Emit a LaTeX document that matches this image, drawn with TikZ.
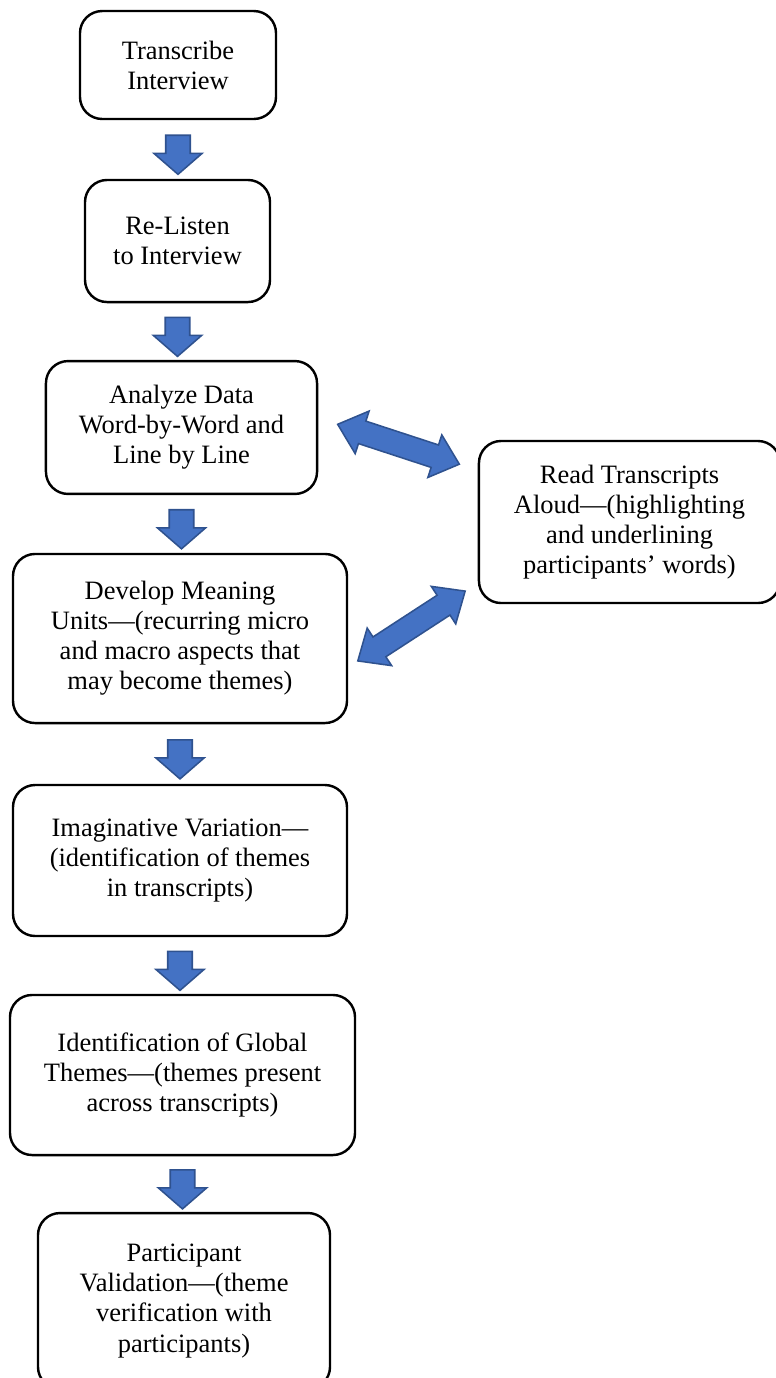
\documentclass[tikz,border=0pt]{standalone}
\usepackage{fontspec}
\setmainfont{Liberation Serif}
\usepackage{xcolor}
\usetikzlibrary{shapes.arrows, calc}
\definecolor{arrowfill}{HTML}{4472C4}
\definecolor{arrowedge}{HTML}{2F528F}
\tikzset{
    stepbox/.style={
        rectangle,
        draw=black,
        line width=1.1pt,
        rounded corners=10pt,
        align=center,
        inner sep=0pt,
        fill=white,
        font=\fontsize{12}{13.6}\selectfont
    },
    downarrow/.style={
        single arrow,
        draw=arrowedge,
        fill=arrowfill,
        line width=0.7pt,
        inner xsep=0pt,
        inner ysep=5.2pt,
        single arrow head extend=5.4pt,
        single arrow tip angle=98,
        minimum height=17.7pt,
        sloped,
        allow upside down
    },
    dblarrow/.style={
        double arrow,
        draw=arrowedge,
        fill=arrowfill,
        line width=0.7pt,
        inner xsep=0pt,
        inner ysep=5pt,
        double arrow head extend=4.8pt,
        double arrow tip angle=82,
        minimum height=58pt,
        sloped,
        allow upside down
    }
}

\begin{document}
\begin{tikzpicture}[x=0.453pt, y=-0.453pt]

\useasboundingbox (0,0) rectangle (775,1378);

% Steps
\node[stepbox, minimum width=88.8pt, minimum height=48.9pt] (tr) at (178,65) {Transcribe\\Interview};
\node[stepbox, minimum width=83.8pt, minimum height=55.3pt] (rl) at (177.5,241) {Re-Listen\\to Interview};
\node[stepbox, minimum width=122.8pt, minimum height=60.2pt] (an) at (181.5,427.5) {Analyze Data\\Word-by-Word and\\Line by Line};
\node[stepbox, minimum width=151.3pt, minimum height=76.6pt] (dm) at (180,638.5) {Develop Meaning\\Units---(recurring micro\\and macro aspects that\\may become themes)};
\node[stepbox, minimum width=151.3pt, minimum height=68.4pt] (iv) at (180,860.5) {Imaginative Variation---\\(identification of themes\\in transcripts)};
\node[stepbox, minimum width=156.3pt, minimum height=72.5pt] (ig) at (182.5,1075) {Identification of Global\\Themes---(themes present\\across transcripts)};
\node[stepbox, minimum width=132.3pt, minimum height=79.7pt] (pv) at (184,1301) {Participant\\Validation---(theme\\verification with\\participants)};

% Side step
\node[stepbox, minimum width=136.4pt, minimum height=73.4pt] (rd) at (629.5,522) {Read Transcripts\\Aloud---(highlighting\\and underlining\\participants' words)};

% Flow
\path (tr.south) -- node[downarrow] {} (tr.south |- rl.north);
\path (rl.south) -- node[downarrow] {} (rl.south |- an.north);
\path (an.south) -- node[downarrow] {} (an.south |- dm.north);
\path (dm.south) -- node[downarrow] {} (dm.south |- iv.north);
\path (iv.south) -- node[downarrow] {} (iv.south |- ig.north);
\path (ig.south) -- node[downarrow] {} (ig.south |- pv.north);

% Back and forth with reading aloud
\path ($(an.east)+(20,-3)$) -- node[dblarrow] {} ($(rd.west)+(-19,-58)$);
\path ($(rd.west)+(-14,70)$) -- node[dblarrow] {} ($(dm.east)+(11,21.5)$);

\end{tikzpicture}
\end{document}
